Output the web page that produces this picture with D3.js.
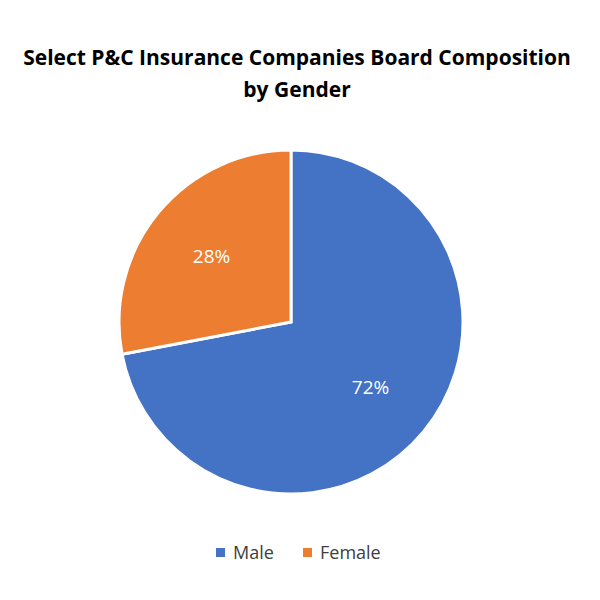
<!DOCTYPE html>
<html><head><meta charset="utf-8">
<script src="https://cdn.jsdelivr.net/npm/d3@7"></script>
<style>body{margin:0;background:#fff}</style>
</head><body>
<script>
const categories = ["Male", "Female"];
const values = [72, 28];
const colors = ["#4472C4", "#ED7D31"];

const W = 600, H = 600;
const svg = d3.select("body").append("svg").attr("width", W).attr("height", H);
const font = "'Open Sans', 'Liberation Sans', sans-serif";

svg.append("text").attr("x", 297).attr("y", 65).attr("text-anchor", "middle")
  .attr("font-family", font).attr("font-weight", "bold").attr("font-size", 21).attr("fill", "#000")
  .text("Select P&C Insurance Companies Board Composition");
svg.append("text").attr("x", 297).attr("y", 97).attr("text-anchor", "middle")
  .attr("font-family", font).attr("font-weight", "bold").attr("font-size", 21).attr("fill", "#000")
  .text("by Gender");

const cx = 291, cy = 322, r = 172;
const pie = d3.pie().sort(null).value(d => d)(values);
const arc = d3.arc().innerRadius(0).outerRadius(r);
const labelArc = d3.arc().innerRadius(r * 0.6).outerRadius(r * 0.6);
const g = svg.append("g").attr("transform", `translate(${cx},${cy})`);
g.selectAll("path").data(pie).join("path")
  .attr("d", arc).attr("fill", (d, i) => colors[i])
  .attr("stroke", "#fff").attr("stroke-width", 3);
g.selectAll("text").data(pie).join("text")
  .attr("transform", d => `translate(${labelArc.centroid(d)})`)
  .attr("text-anchor", "middle").attr("dy", "0.35em")
  .attr("font-family", font).attr("font-size", 19).attr("fill", "#fff")
  .text(d => d.data + "%");

const legend = svg.append("g");
const lx = [216, 303];
categories.forEach((c, i) => {
  legend.append("rect").attr("x", lx[i]).attr("y", 548).attr("width", 9).attr("height", 9).attr("fill", colors[i]);
  legend.append("text").attr("x", lx[i] + 17).attr("y", 559).attr("font-family", font)
    .attr("font-size", 18).attr("fill", "#404040").text(c);
});
</script>
</body></html>
